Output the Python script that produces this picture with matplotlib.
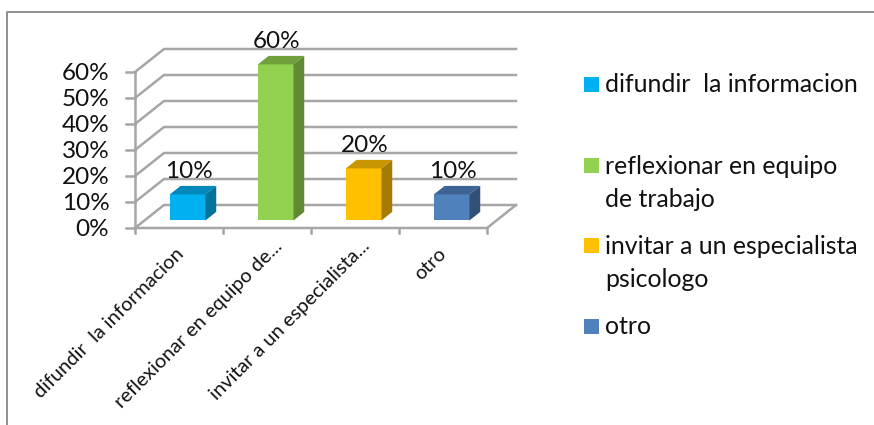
import matplotlib
matplotlib.use("Agg")
import matplotlib.pyplot as plt
from matplotlib.patches import Polygon, Rectangle

plt.rcParams['font.family'] = ['Lato', 'DejaVu Sans']

categories = ['difundir  la informacion', 'reflexionar en equipo de...',
              'invitar a un especialista...', 'otro']
values = [0.10, 0.60, 0.20, 0.10]
value_labels = ['10%', '60%', '20%', '10%']
y_ticks = [0, 0.1, 0.2, 0.3, 0.4, 0.5, 0.6]
y_tick_labels = ['0%', '10%', '20%', '30%', '40%', '50%', '60%']
legend_labels = ['difundir  la informacion', 'reflexionar en equipo\nde trabajo',
                 'invitar a un especialista\npsicologo', 'otro']
front_colors = ['#00b0f0', '#92d050', '#ffc000', '#4f81bd']
top_colors = ['#0088ba', '#70a03c', '#c79600', '#3d6494']
side_colors = ['#00739c', '#5f8a32', '#a67c00', '#324f78']

W, H = 874, 425
grid = '#a6a6a6'

# shift for the oblique depth, in data units
dx = 29 / 88
dy = 23 / 260

fig = plt.figure(figsize=(W / 100, H / 100), dpi=100)
fig.patch.set_facecolor('white')

# outer frame
fig.add_artist(plt.Line2D([7 / W, 7 / W, 874 / W], [0, 1 - 12 / H, 1 - 12 / H],
                          color='#868686', lw=1.3))

ax = fig.add_axes([135 / W, 1 - 228 / H, 352 / W, 156 / H])
ax.set_xlim(0, 4)
ax.set_ylim(0, 0.6)
ax.axis('off')


def depth(x, y, d):
    return (x + dx * d, y + dy * d)


# walls and gridlines
for t, lab in zip(y_ticks, y_tick_labels):
    ax.plot([0, dx, 4 + dx], [t, t + dy, t + dy], color=grid, lw=1.8, clip_on=False, zorder=1)
    ax.plot([-0.1, 0], [t, t], color=grid, lw=1.8, clip_on=False, zorder=1)
    ax.annotate(lab, (0, t), xytext=(-18.5, 0), textcoords='offset points', ha='right', va='center_baseline',
                fontsize=17.5, color='#111111', annotation_clip=False)
ax.plot([0, 0], [0, 0.6], color=grid, lw=1.8, clip_on=False, zorder=1)
ax.plot([0, 4, 4 + dx], [0, 0, dy], color=grid, lw=1.8, clip_on=False, zorder=1)
for i in range(5):
    ax.plot([i, i], [0, -0.02], color=grid, lw=1.8, clip_on=False, zorder=1)

# bars
d0, d1 = 0.33, 0.7
bw = 0.405
for i, v in enumerate(values):
    x0 = i + 0.5 - bw / 2 - 0.01
    x1 = x0 + bw
    fx0, y0 = depth(x0, 0, d0)
    fx1, _ = depth(x1, 0, d0)
    top = y0 + v
    bx0, by = depth(x0, 0, d1)
    bx1, _ = depth(x1, 0, d1)
    by_top = by + v
    ax.add_patch(Rectangle((fx0, y0), fx1 - fx0, v, fc=front_colors[i], ec='none', zorder=3, clip_on=False))
    ax.add_patch(Polygon([(fx0, top), (fx1, top), (bx1, by_top), (bx0, by_top)], fc=top_colors[i], ec='none', zorder=3, clip_on=False))
    ax.add_patch(Polygon([(fx1, y0), (bx1, by), (bx1, by_top), (fx1, top)], fc=side_colors[i], ec='none', zorder=3, clip_on=False))
    ax.annotate(value_labels[i], ((fx0 + bx1) / 2, by_top), xytext=(-3, 6), textcoords='offset points',
                ha='center', va='baseline', fontsize=17.5, color='#111111', zorder=4, annotation_clip=False)

# category labels, the cut ones sit a bit higher
label_offsets = [(-2.5, -12), (4.5, -6.5), (4.5, -6.5), (-4, -12)]
for i, c in enumerate(categories):
    ax.annotate(c, (i + 0.5, 0), xytext=label_offsets[i], textcoords='offset points', rotation=45,
                rotation_mode='anchor', ha='right', va='top', fontsize=14.4, color='#111111',
                annotation_clip=False)

# legend
leg_y = [84.5, 165.5, 245.5, 326.5]
for lab, col, y in zip(legend_labels, front_colors, leg_y):
    fig.add_artist(Rectangle((584 / W, 1 - (y + 7.5) / H), 15 / W, 15 / H, fc=col, ec='none',
                             transform=fig.transFigure))
    fig.text(605 / W, 1 - (y - 11) / H, lab, ha='left', va='top', fontsize=17.9, color='#111111', linespacing=1.55)

fig.savefig('out.png', dpi=100)
